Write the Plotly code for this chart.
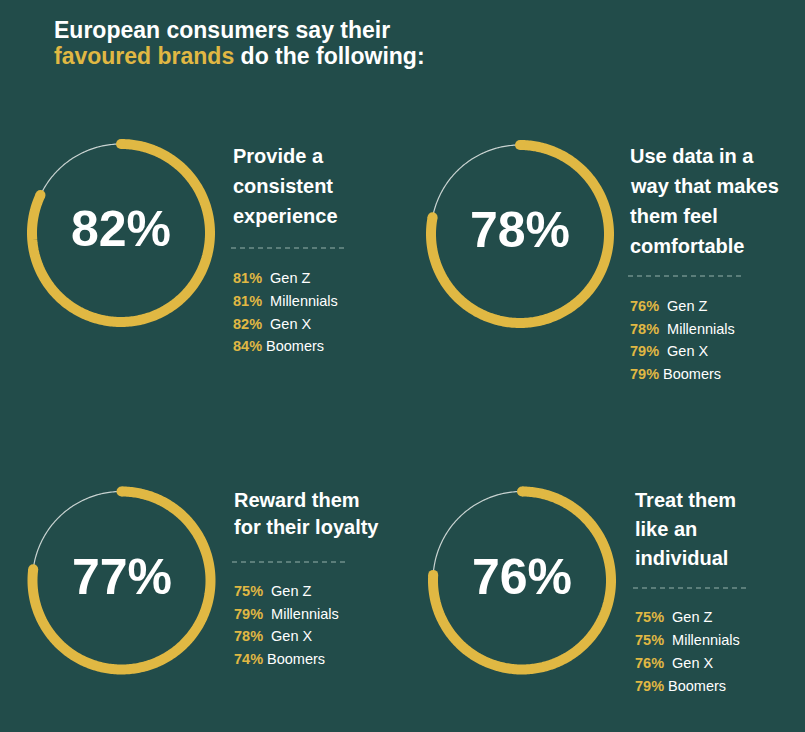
import numpy as np
import plotly.graph_objects as go

# ---------------- data ----------------
headline_values = [82, 78, 77, 76]
statements = [
    ["Provide a", "consistent", "experience"],
    ["Use data in a", "way that makes", "them feel", "comfortable"],
    ["Reward them", "for their loyalty"],
    ["Treat them", "like an", "individual"],
]
generations = ["Gen Z", "Millennials", "Gen X", "Boomers"]
gen_z = [81, 76, 75, 75]
millennials = [81, 78, 79, 75]
gen_x = [82, 79, 78, 76]
boomers = [84, 79, 74, 79]
title_line1 = "European consumers say their"
title_highlight = "favoured brands"
title_rest = " do the following:"

# ---------------- style / layout ----------------
W, H = 805, 732
BG = "#224c4a"
YEL = "#e0b843"
WHITE = "#ffffff"
RING_THIN = "#c9d3d1"
DASH = "#6f8e8a"
FONT = "Liberation Sans, Arial, sans-serif"

ring_centers = [(121, 233), (520, 234), (121.5, 580.5), (522, 580.5)]
R_DOM = 100     # px radius of polar domain
R_ARC = 89      # stroke-center radius (radial axis units = px)

blocks = [
    dict(x=231, baselines=[163, 193, 223], dash_y=248, items=[278, 301, 323.5, 346]),
    dict(x=628, baselines=[163, 193, 223, 253], dash_y=276, items=[306, 328.5, 351, 373.5]),
    dict(x=232, baselines=[507, 534], dash_y=562, items=[591, 613.5, 636, 659]),
    dict(x=633, baselines=[507, 536, 565], dash_y=588, items=[617, 640, 663, 686]),
]
DASH_LEN = 116

fig = go.Figure()
gen_values = [gen_z, millennials, gen_x, boomers]

for i, v in enumerate(headline_values):
    cx, cy = ring_centers[i]
    pid = "polar" if i == 0 else f"polar{i+1}"
    sub = pid
    th_full = np.linspace(0, 360, 361)
    fig.add_trace(go.Scatterpolar(r=[R_ARC] * len(th_full), theta=th_full, mode="lines",
                                  line=dict(color=RING_THIN, width=1.2), subplot=sub,
                                  hoverinfo="skip", showlegend=False, cliponaxis=False))
    th = np.linspace(0, 360 * v / 100, 300)
    fig.add_trace(go.Scatterpolar(r=[R_ARC] * len(th), theta=th, mode="lines",
                                  line=dict(color=YEL, width=10), subplot=sub,
                                  showlegend=False, cliponaxis=False))
    fig.add_trace(go.Scatterpolar(r=[R_ARC, R_ARC], theta=[th[0], th[-1]], mode="markers",
                                  marker=dict(color=YEL, size=10, line=dict(width=0)), subplot=sub,
                                  hoverinfo="skip", showlegend=False, cliponaxis=False))
    fig.update_layout(**{pid: dict(
        domain=dict(x=[(cx - R_DOM) / W, (cx + R_DOM) / W],
                    y=[1 - (cy + R_DOM) / H, 1 - (cy - R_DOM) / H]),
        bgcolor="rgba(0,0,0,0)",
        radialaxis=dict(range=[0, R_DOM], visible=False),
        angularaxis=dict(rotation=90, direction="clockwise", visible=False),
    )})
    fig.add_annotation(x=cx / W, y=1 - (cy - 4) / H, xref="paper", yref="paper",
                       text=f"<b>{v}%</b>", showarrow=False, xanchor="center", yanchor="middle",
                       font=dict(family=FONT, size=50, color=WHITE))

    b = blocks[i]
    for line, base in zip(statements[i], b["baselines"]):
        fig.add_annotation(x=b["x"] / W, y=1 - (base - 7) / H, xref="paper", yref="paper",
                           text=f"<b>{line}</b>", showarrow=False, xanchor="left", yanchor="middle",
                           font=dict(family=FONT, size=20, color=WHITE))
    fig.add_shape(type="line", xref="paper", yref="paper",
                  x0=b["x"] / W, x1=(b["x"] + DASH_LEN) / W,
                  y0=1 - b["dash_y"] / H, y1=1 - b["dash_y"] / H,
                  line=dict(color=DASH, width=1.5, dash="5px,4px"))
    for g, (gname, gv) in enumerate(zip(generations, gen_values)):
        sep = "\u00a0" if gname == "Boomers" else "\u00a0\u00a0"
        fig.add_annotation(x=b["x"] / W, y=1 - b["items"][g] / H, xref="paper", yref="paper",
                           text=f"<b><span style='color:{YEL}'>{gv[i]}%</span></b>{sep}{gname}",
                           showarrow=False, xanchor="left", yanchor="middle",
                           font=dict(family=FONT, size=14.5, color=WHITE))

# title
fig.add_annotation(x=52 / W, y=1 - 30 / H, xref="paper", yref="paper",
                   text=f"<b>{title_line1}</b>", showarrow=False, xanchor="left", yanchor="middle",
                   font=dict(family=FONT, size=23, color=WHITE))
fig.add_annotation(x=52 / W, y=1 - 56 / H, xref="paper", yref="paper",
                   text=f"<b><span style='color:{YEL}'>{title_highlight}</span>{title_rest}</b>",
                   showarrow=False, xanchor="left", yanchor="middle",
                   font=dict(family=FONT, size=23, color=WHITE))

fig.update_layout(width=W, height=H, margin=dict(l=0, r=0, t=0, b=0),
                  paper_bgcolor=BG, plot_bgcolor=BG, showlegend=False)

fig.write_html("out.html")
